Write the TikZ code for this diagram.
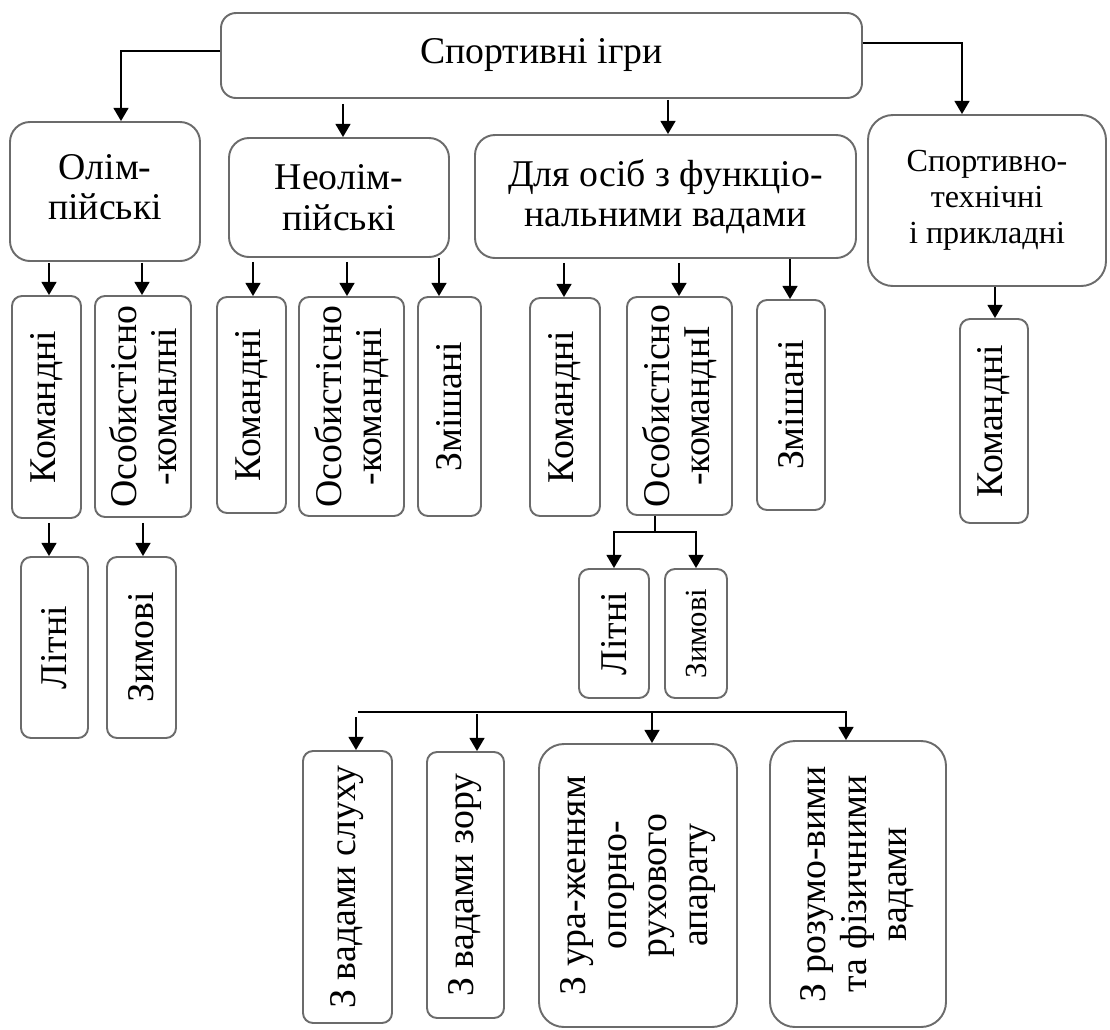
\documentclass[tikz,border=0pt]{standalone}
\usepackage{fontspec}
\setmainfont{Liberation Serif}
\usetikzlibrary{arrows.meta}

\definecolor{boxgray}{HTML}{6B6B6B}
\newcommand\lifted[2]{\raisebox{#1}{\begin{tabular}{@{}c@{}}#2\end{tabular}}}

\tikzset{
  box/.style={draw=boxgray,line width=1.1pt,rounded corners=#1,align=center,
    inner sep=0pt,font=\fontsize{21.5}{23}\selectfont},
  box/.default=0.4cm,
  vbox/.style={box=#1,rotate=90},
  vbox/.default=0.2cm,
  sz/.style 2 args={minimum width=#1*0.02cm,minimum height=#2*0.02cm},
  link/.style={line width=1.1pt},
  arr/.style={link,->},
}

\begin{document}
\begin{tikzpicture}[x=0.02cm,y=-0.02cm,>={Triangle[length=7.5pt,width=8.5pt]}]
  \useasboundingbox (0,0) rectangle (1110,1029);

  % top level
  \node[box=0.3cm,sz={641}{85}] (games) at (541.5,55.5) {\raisebox{0.15cm}{Спортивні ігри}};
  \node[box,sz={190}{139}] (olymp) at (105,191.5) {\lifted{0.12cm}{Олім-\\пійські}};
  \node[box,sz={220}{119}] (neo) at (339,197.5) {Неолім-\\пійські};
  \node[box,sz={381}{123}] (disab) at (665.5,196.5) {Для осіб з функціо-\\нальними вадами};
  \node[box=0.5cm,sz={238}{171},font=\fontsize{18.3}{20.5}\selectfont] (tech) at (987,200.5)
    {\lifted{0.22cm}{Спортивно-\\технічні\\і прикладні}};

  % second level (rotated)
  \node[vbox,sz={222}{69}] (okom) at (46.5,407) {Командні};
  \node[vbox,sz={221}{96}] (oosob) at (143,406.5) {Особистісно\\-команлні};
  \node[vbox,sz={216}{69}] (nkom) at (251.5,405) {Командні};
  \node[vbox,sz={219}{105}] (nosob) at (351.5,406.5) {Особистісно\\-командні};
  \node[vbox,sz={219}{63}] (nmix) at (449.5,406.5) {Змішані};
  \node[vbox,sz={218}{70}] (dkom) at (565,407) {Командні};
  \node[vbox,sz={218}{105}] (dosob) at (679.5,406) {Особистісно\\-команднІ};
  \node[vbox,sz={210}{68}] (dmix) at (791,405) {Змішані};
  \node[vbox,sz={204}{68}] (tkom) at (994,421) {Командні};

  % seasons
  \node[vbox,sz={181}{67}] (osum) at (54.5,647.5) {Літні};
  \node[vbox,sz={181}{69}] (owin) at (141.5,647.5) {Зимові};
  \node[vbox,sz={129}{70}] (dsum) at (614,633.5) {Літні};
  \node[vbox,sz={129}{62},font=\fontsize{17.5}{19}\selectfont] (dwin) at (696,633.5) {Зимові};

  % kinds of impairment
  \node[vbox,sz={272}{89}] (hear) at (347.5,887) {З вадами слуху};
  \node[vbox,sz={266}{77}] (sight) at (465.5,885) {З вадами зору};
  \node[vbox=0.5cm,sz={283}{198}] (motor) at (638,885.5) {З ура-женням\\опорно-\\рухового\\апарату};
  \node[vbox=0.5cm,sz={286}{176}] (mind) at (858,884)
    {\lifted{0.28cm}{З розумо-вими\\та фізичними\\вадами}};

  % connectors
  \draw[arr] ([yshift=0.09cm]games.west) -| ([xshift=0.32cm]olymp.north);
  \draw[arr] ([yshift=0.25cm]games.east) -| ([xshift=-0.5cm]tech.north);

  \foreach \p/\c/\x/\g in {games.south/neo.north/343/5, games.south/disab.north/668/1,
      olymp.south/okom.east/49/1, olymp.south/oosob.east/142/1,
      neo.south/nkom.east/253/4, neo.south/nosob.east/347/4, neo.south/nmix.east/439/0,
      disab.south/dkom.east/564/4, disab.south/dosob.east/679/4, disab.south/dmix.east/790/0,
      tech.south/tkom.east/995/0,
      okom.west/osum.east/49/4, oosob.west/owin.east/143/5}
    \draw[arr] (\p -| \x,0) ++(0,\g) -- (\c -| \x,0);

  \coordinate (fork) at (655,532);
  \draw[link] (dosob.west -| fork) -- (fork);
  \draw[arr] (fork) -| (dsum.east);
  \draw[arr] (fork) -| (dwin.east);

  \coordinate (busL) at (358,712);
  \coordinate (busR) at (847,712);
  \draw[link] (busL) -- (busR);
  \foreach \c/\x/\g in {hear/356/5, sight/477/2, motor/652/0, mind/846/0}
    \draw[arr] (busL -| \x,0) ++(0,\g) -- (\c.east -| \x,0);
\end{tikzpicture}
\end{document}
